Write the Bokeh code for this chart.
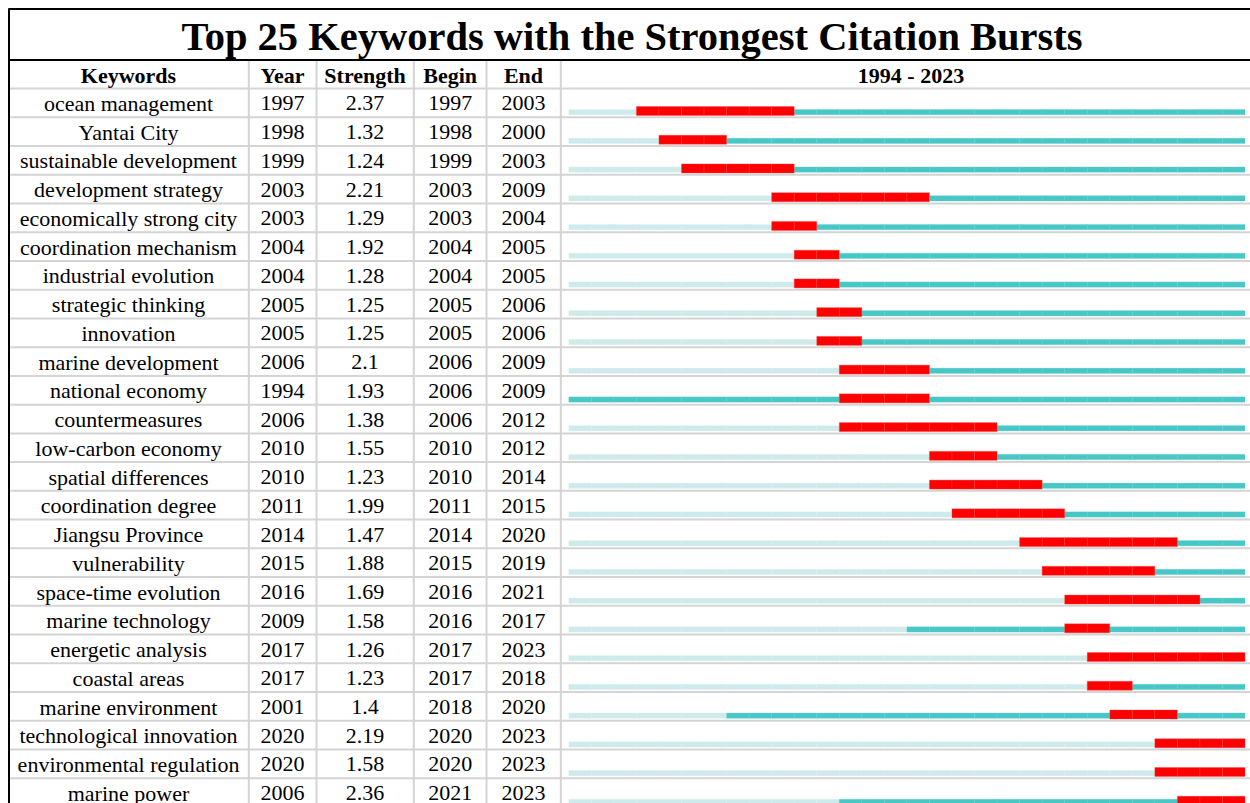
from bokeh.plotting import figure
from bokeh.models import ColumnDataSource, Range1d
from bokeh.core.properties import value
from bokeh.embed import file_html
from bokeh.resources import INLINE

# ---------------- data ----------------
keywords = ["ocean management", "Yantai City", "sustainable development", "development strategy",
            "economically strong city", "coordination mechanism", "industrial evolution",
            "strategic thinking", "innovation", "marine development", "national economy",
            "countermeasures", "low-carbon economy", "spatial differences", "coordination degree",
            "Jiangsu Province", "vulnerability", "space-time evolution", "marine technology",
            "energetic analysis", "coastal areas", "marine environment", "technological innovation",
            "environmental regulation", "marine power"]
years = [1997, 1998, 1999, 2003, 2003, 2004, 2004, 2005, 2005, 2006, 1994, 2006, 2010, 2010, 2011,
         2014, 2015, 2016, 2009, 2017, 2017, 2001, 2020, 2020, 2006]
strengths = [2.37, 1.32, 1.24, 2.21, 1.29, 1.92, 1.28, 1.25, 1.25, 2.1, 1.93, 1.38, 1.55, 1.23, 1.99,
             1.47, 1.88, 1.69, 1.58, 1.26, 1.23, 1.4, 2.19, 1.58, 2.36]
begins = [1997, 1998, 1999, 2003, 2003, 2004, 2004, 2005, 2005, 2006, 2006, 2006, 2010, 2010, 2011,
          2014, 2015, 2016, 2016, 2017, 2017, 2018, 2020, 2020, 2021]
ends = [2003, 2000, 2003, 2009, 2004, 2005, 2005, 2006, 2006, 2009, 2009, 2012, 2012, 2014, 2015,
        2020, 2019, 2021, 2017, 2023, 2018, 2020, 2023, 2023, 2023]
headers = ["Keywords", "Year", "Strength", "Begin", "End"]
first_year, last_year = 1994, 2023
title_text = "Top 25 Keywords with the Strongest Citation Bursts"

# ---------------- layout (page pixels) ----------------
W, H = 1250, 803
ROW = 28.74            # px per row
ROW0 = 102.37          # px of first row centre
def py(px):            # pixel (from top) -> row units
    return (px - ROW0) / ROW

YEAR_PX = 22.54
TL_LEFT = 568.3
yr_start = first_year - TL_LEFT / YEAR_PX
yr_end = first_year + (W - TL_LEFT) / YEAR_PX

p = figure(width=W, height=H, x_range=Range1d(0, W), y_range=Range1d(py(H), py(0)),
           output_backend="svg", toolbar_location=None, min_border=0,
           x_axis_location=None, y_axis_location=None, outline_line_color=None,
           background_fill_color="white", border_fill_color="white")
p.xgrid.visible = False
p.ygrid.visible = False
p.extra_x_ranges = {"yr": Range1d(yr_start, yr_end)}

n = len(keywords)
rows = list(range(n))

# grid lines
col_bounds = [248.3, 316.0, 413.3, 486.0, 560.3]
grey = "#d4d4d4"
p.segment(x0=[8] * (n + 1), x1=[W] * (n + 1), y0=[r - 0.5 for r in range(n + 1)],
          y1=[r - 0.5 for r in range(n + 1)], line_color=grey, line_width=2)
p.segment(x0=col_bounds, x1=col_bounds, y0=[py(59)] * len(col_bounds), y1=[py(H)] * len(col_bounds),
          line_color=grey, line_width=2)
# black frame of title
p.segment(x0=[8, 8, 8.5], x1=[W, W, 8.5], y0=[py(8.5), py(59.5), py(8)], y1=[py(8.5), py(59.5), py(H)],
          line_color="black", line_width=2)

# per-year cells
cells = {"light": ([], [], [], []), "teal": ([], [], [], []), "red": ([], [], [], [])}
for i in rows:
    for yv in range(first_year, last_year + 1):
        if begins[i] <= yv <= ends[i]:
            key, t, b = "red", i + 3.6 / ROW, i + 12.6 / ROW
        elif yv >= years[i]:
            key, t, b = "teal", i + 6.6 / ROW, i + 11.9 / ROW
        else:
            key, t, b = "light", i + 6.6 / ROW, i + 11.9 / ROW
        L, R, T, B = cells[key]
        L.append(yv); R.append(yv + 1); T.append(t); B.append(b)

styles = {"light": ("#cfeaea", "#dcf0f0", 0.3), "teal": ("#48c7c7", "#5ccdcd", 0.3),
          "red": ("#ff0000", "#ff4040", 0.35)}
for key in ["light", "teal", "red"]:
    L, R, T, B = cells[key]
    fill, line, la = styles[key]
    p.quad(left=L, right=R, top=T, bottom=B, fill_color=fill, line_color=line, line_width=1,
           line_alpha=la, x_range_name="yr")

# texts
font = value("Liberation Serif")
col_centers = [128.0, 282.0, 364.6, 449.7, 523.0]
text_dy = 0.6 / ROW
cols = [keywords, [str(v) for v in years], [str(v) for v in strengths],
        [str(v) for v in begins], [str(v) for v in ends]]
for cx, vals in zip(col_centers, cols):
    src = ColumnDataSource(dict(x=[cx] * n, y=[r + text_dy for r in rows], t=vals))
    p.text(x="x", y="y", text="t", source=src, text_font=font, text_font_size=value("22px"),
           text_align="center", text_baseline="alphabetic", text_color="black")

hsrc = ColumnDataSource(dict(x=col_centers + [910.5], y=[py(75)] * 6,
                             t=headers + [f"{first_year} - {last_year}"]))
p.text(x="x", y="y", text="t", source=hsrc, text_font=font, text_font_size=value("22px"),
       text_font_style="bold", text_align="center", text_baseline="alphabetic", text_color="black")

tsrc = ColumnDataSource(dict(x=[631.5], y=[py(36)], t=[title_text]))
p.text(x="x", y="y", text="t", source=tsrc, text_font=font, text_font_size=value("40.5px"),
       text_font_style="bold", text_align="center", text_baseline="alphabetic", text_color="black")

open("out.html", "w").write(file_html(p, INLINE))
